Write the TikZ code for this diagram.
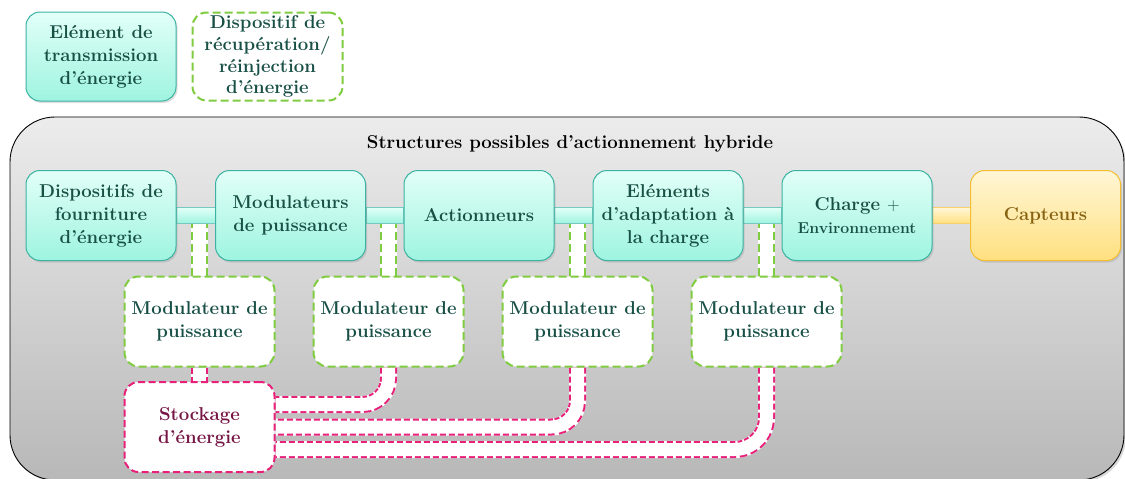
\documentclass[tikz,border=0pt]{standalone}
\usepackage{fontspec}
\setmainfont{Latin Modern Roman}
\usetikzlibrary{shadows}
\pgfdeclarelayer{back}
\pgfdeclarelayer{mid}
\pgfsetlayers{back,mid,main}
\definecolor{tealtext}{RGB}{24,80,70}
\definecolor{tealtop}{RGB}{226,255,248}
\definecolor{tealbot}{RGB}{158,244,224}
\definecolor{tealborder}{RGB}{60,178,162}
\definecolor{yeltop}{RGB}{255,246,214}
\definecolor{yelbot}{RGB}{255,224,128}
\definecolor{yelborder}{RGB}{244,190,48}
\definecolor{yeltext}{RGB}{134,98,18}
\definecolor{greendash}{RGB}{128,204,64}
\definecolor{magdash}{RGB}{232,32,122}
\definecolor{magtext}{RGB}{118,20,68}
\definecolor{contop}{RGB}{236,236,236}
\definecolor{conbot}{RGB}{184,184,184}
\tikzset{
  boxbase/.style={rectangle, rounded corners=14pt, minimum width=150pt, minimum height=90pt,
    align=center, inner sep=2pt, font=\fontsize{18.6}{23}\selectfont\bfseries},
  tealbox/.style={boxbase, draw=tealborder, line width=1pt, top color=tealtop, bottom color=tealbot,
    text=tealtext, drop shadow={opacity=0.25, shadow xshift=1.5pt, shadow yshift=-2pt}},
  yelbox/.style={boxbase, draw=yelborder, line width=1pt, top color=yeltop, bottom color=yelbot,
    text=yeltext, drop shadow={opacity=0.25, shadow xshift=1.5pt, shadow yshift=-2pt}},
  greenbox/.style={boxbase, draw=greendash, line width=2pt, fill=white, text=tealtext,
    dash pattern=on 8pt off 4pt},
  magbox/.style={boxbase, draw=magdash, line width=2pt, fill=white, text=magtext,
    dash pattern=on 7pt off 3.5pt},
  tealbar/.style={draw=tealborder!70, line width=0.8pt, top color=tealtop, bottom color=tealbot},
  yelbar/.style={draw=yelborder!70, line width=0.8pt, top color=yeltop, bottom color=yelbot},
  pipe/.style={draw=#1, line width=17pt, preaction={draw=white, line width=17pt, solid},
    postaction={draw=white, line width=13pt, solid}},
  greenpipe/.style={pipe=greendash, dash pattern=on 8pt off 4pt},
  magpipe/.style={pipe=magdash, dash pattern=on 6pt off 3pt, rounded corners=26pt},
}
\begin{document}
\begin{tikzpicture}[x=1pt,y=-1pt]
\useasboundingbox (0,0) rectangle (1125,479);
\begin{pgfonlayer}{back}
\fill[white] (0,0) rectangle (1125,479);
\begin{scope}
\clip (0,0) rectangle (1125,479);
\draw[black, line width=0.9pt, rounded corners=45pt, top color=contop, bottom color=conbot,
  drop shadow={opacity=0.3, shadow xshift=2pt, shadow yshift=-2pt}] (10,117) rectangle (1124,480);
\end{scope}
\end{pgfonlayer}
% legend
\node[tealbox, minimum height=89pt] (L1) at (101,56.5) {Elément de\\transmission\\d’énergie};
\node[greenbox, minimum width=150pt, minimum height=88pt, font=\fontsize{18.6}{21.8}\selectfont\bfseries] (L2) at (267.5,56.5) {Dispositif de\\récupération/\\réinjection\\d’énergie};
% title
\node[font=\fontsize{18.6}{23}\selectfont\bfseries] (T) at (570,144) {Structures possibles d’actionnement hybride};
% main row nodes
\node[tealbox] (N1) at (101,215.5) {Dispositifs de\\fourniture\\d’énergie};
\node[tealbox] (N2) at (290.5,215.5) {Modulateurs\\de puissance};
\node[tealbox] (N3) at (479,215.5) {Actionneurs};
\node[tealbox] (N4) at (668,215.5) {Eléments\\d’adaptation à\\la charge};
\node[tealbox] (N5) at (857,215.5) {Charge $+$\\{\fontsize{15.8}{20}\selectfont Environnement}};
\node[yelbox] (N6) at (1045.5,215.5) {Capteurs};
% modulators
\node[greenbox] (M1) at (199.5,321.5) {Modulateur de\\puissance};
\node[greenbox] (M2) at (388.5,321.5) {Modulateur de\\puissance};
\node[greenbox] (M3) at (577.5,321.5) {Modulateur de\\puissance};
\node[greenbox] (M4) at (766.5,321.5) {Modulateur de\\puissance};
\node[magbox] (S) at (199.5,427) {Stockage\\d’énergie};
% pipes and bars behind the boxes
\begin{pgfonlayer}{mid}
\path[greenpipe] (M1.north) -- (M1.north |- N1.center);
\path[greenpipe] (M2.north) -- (M2.north |- N1.center);
\path[greenpipe] (M3.north) -- (M3.north |- N1.center);
\path[greenpipe] (M4.north) -- (M4.north |- N1.center);
\path[magpipe] (M1.south) -- (S.north);
\path[magpipe] (M2.south) |- ([yshift=22.5pt]S.east);
\path[magpipe] (M3.south) |- (S.east);
\path[magpipe, rounded corners=32pt] (M4.south) |- ([yshift=-22.5pt]S.east);
\path[tealbar] ([yshift=8pt]N1.east) rectangle ([yshift=-8pt]N2.west);
\path[tealbar] ([yshift=8pt]N2.east) rectangle ([yshift=-8pt]N3.west);
\path[tealbar] ([yshift=8pt]N3.east) rectangle ([yshift=-8pt]N4.west);
\path[tealbar] ([yshift=8pt]N4.east) rectangle ([yshift=-8pt]N5.west);
\path[yelbar] ([yshift=8pt]N5.east) rectangle ([yshift=-8pt]N6.west);
\end{pgfonlayer}
\end{tikzpicture}
\end{document}
